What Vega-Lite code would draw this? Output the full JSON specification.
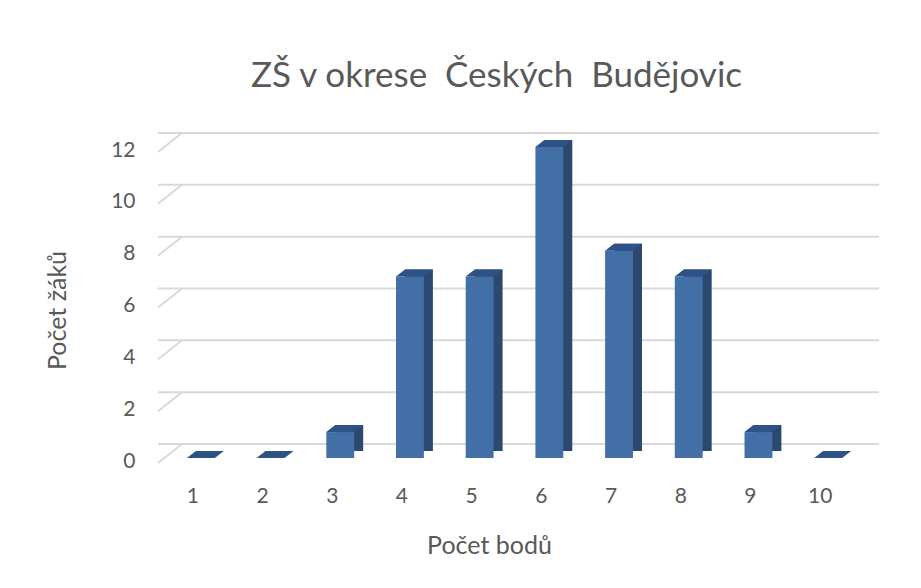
{
  "$schema": "https://vega.github.io/schema/vega-lite/v6.json",
  "width": 697,
  "height": 311,
  "autosize": "none",
  "padding": {"left": 158, "top": 152, "right": 66, "bottom": 125},
  "background": "white",
  "config": {
    "view": {"stroke": null},
    "font": "Lato"
  },
  "title": {
    "text": "ZŠ v okrese\u00a0 Českých\u00a0 Budějovic",
    "font": "Lato",
    "fontSize": 35,
    "fontWeight": "normal",
    "color": "#595959",
    "anchor": "middle",
    "dx": -10,
    "offset": 38
  },
  "resolve": {"scale": {"x": "independent"}, "axis": {"x": "independent"}},
  "layer": [
    {
      "data": {"values": [{"v": 0}, {"v": 2}, {"v": 4}, {"v": 6}, {"v": 8}, {"v": 10}, {"v": 12}]},
      "mark": {"type": "rule", "color": "#d9d9d9", "strokeWidth": 2, "xOffset": 24, "x2Offset": 24, "yOffset": -19},
      "encoding": {
        "y": {
          "field": "v",
          "type": "quantitative",
          "scale": {"domain": [0, 12], "nice": false, "zero": true},
          "axis": {
            "values": [0, 2, 4, 6, 8, 10, 12],
            "domain": false,
            "ticks": false,
            "grid": false,
            "labelPadding": 23,
            "labelOffset": -2,
            "labelFontSize": 21,
            "labelFont": "Lato",
            "labelColor": "#595959",
            "title": "Počet žáků",
            "titleFont": "Lato",
            "titleFontSize": 25,
            "titleFontWeight": "normal",
            "titleColor": "#595959",
            "titleX": -101,
            "titleY": 158,
            "titleAlign": "center",
            "titleBaseline": "middle",
            "titleAngle": 270
          }
        }
      }
    },
    {
      "data": {"values": [{"v": 0}, {"v": 2}, {"v": 4}, {"v": 6}, {"v": 8}, {"v": 10}, {"v": 12}]},
      "mark": {"type": "rule", "color": "#d9d9d9", "strokeWidth": 2, "y2Offset": -19},
      "encoding": {
        "x": {"datum": 0, "type": "quantitative", "scale": {"domain": [0, 697], "nice": false}, "axis": null},
        "x2": {"datum": 24},
        "y": {"field": "v", "type": "quantitative"},
        "y2": {"field": "v"}
      }
    },
    {
      "data": {
        "values": [
          {"body": "1", "pocet": 0},
          {"body": "2", "pocet": 0},
          {"body": "3", "pocet": 1},
          {"body": "4", "pocet": 7},
          {"body": "5", "pocet": 7},
          {"body": "6", "pocet": 12},
          {"body": "7", "pocet": 8},
          {"body": "8", "pocet": 7},
          {"body": "9", "pocet": 1},
          {"body": "10", "pocet": 0}
        ]
      },
      "encoding": {
        "x": {
          "field": "body",
          "type": "ordinal",
          "sort": null,
          "scale": {"paddingInner": 0, "paddingOuter": 0},
          "axis": {
            "labelAngle": 0,
            "domain": false,
            "ticks": false,
            "labelPadding": 22,
            "labelFontSize": 21,
            "labelFont": "Lato",
            "labelColor": "#595959",
            "title": "Počet bodů",
            "titleFont": "Lato",
            "titleFontSize": 25,
            "titleFontWeight": "normal",
            "titleColor": "#595959",
            "titleX": 331,
            "titleY": 82,
            "titleAlign": "center",
            "titleBaseline": "middle"
          }
        },
        "y": {"field": "pocet", "type": "quantitative"}
      },
      "layer": [
        {"mark": {"type": "bar", "color": "#2b486e", "width": {"band": 0.4}, "xOffset": 17, "yOffset": -12, "y2Offset": -12}},
        {"mark": {"type": "bar", "color": "#4270a6", "width": {"band": 0.4}, "xOffset": 8, "yOffset": -5, "y2Offset": -5}},
        {"mark": {"type": "point", "shape": "M-1.85,0.35L0.95,0.35L1.85,-0.35L-0.95,-0.35Z", "size": 400, "filled": true, "opacity": 1, "strokeWidth": 0, "color": "#2f5286", "xOffset": 12.5, "yOffset": -8.5}}
      ]
    }
  ]
}
